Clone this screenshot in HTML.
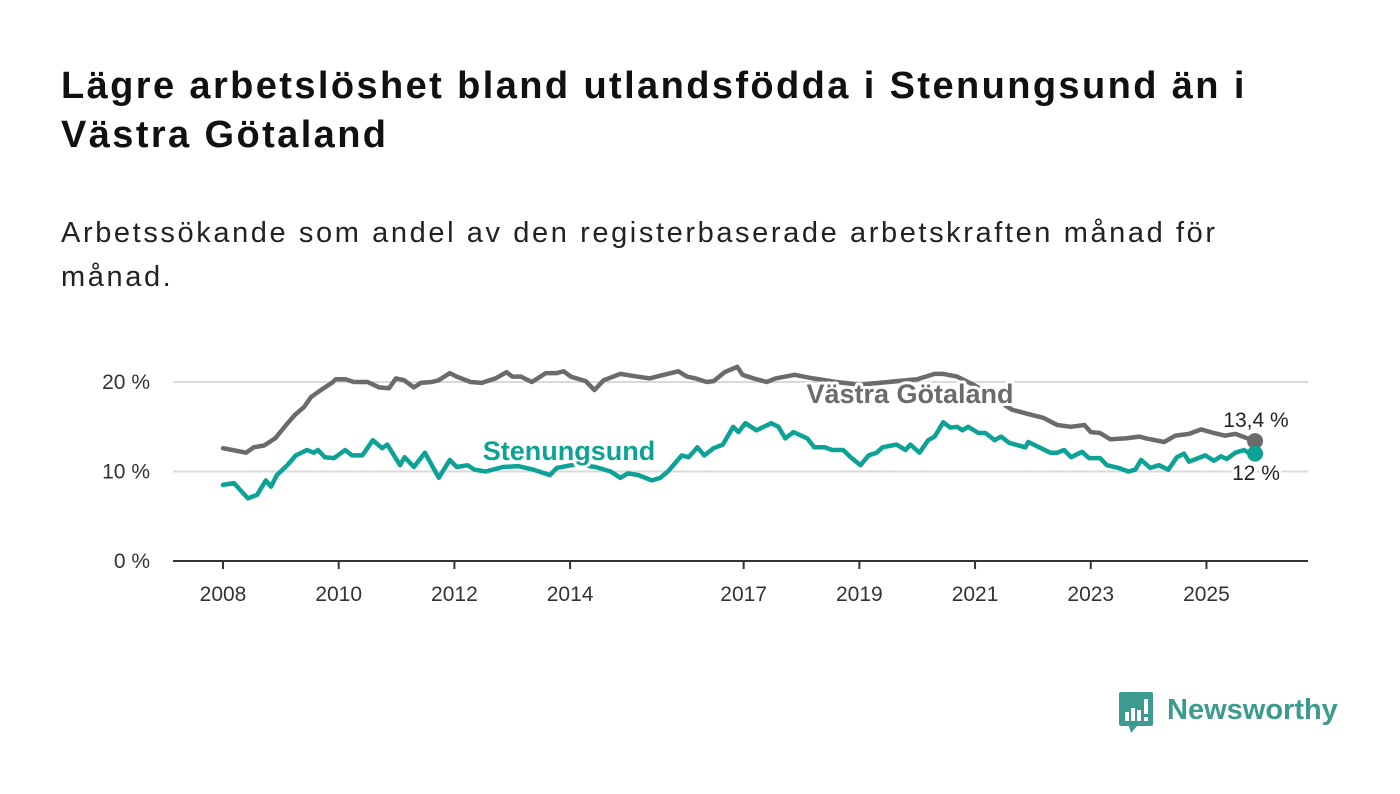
<!DOCTYPE html>
<html><head><meta charset="utf-8">
<style>
body{margin:0;background:#fff;width:1400px;height:794px;overflow:hidden;font-family:"Liberation Sans",sans-serif;}
#title{position:absolute;left:61px;top:62px;font-size:38px;font-weight:bold;line-height:49px;color:#111;width:1260px;letter-spacing:2.4px;}
#sub{position:absolute;left:61px;top:211px;font-size:29px;line-height:44px;color:#222;width:1240px;letter-spacing:2.6px;}
svg{position:absolute;left:0;top:0;}
</style></head><body>
<div id="title">Lägre arbetslöshet bland utlandsfödda i Stenungsund än i Västra Götaland</div>
<div id="sub">Arbetssökande som andel av den registerbaserade arbetskraften månad för månad.</div>
<svg id="chart" width="1400" height="794"></svg>
<script>
const yTicks=[0,10,20];
const yTickLabels=["0 %","10 %","20 %"];
const xTicks=[2008,2010,2012,2014,2017,2019,2021,2023,2025];
const vgYears=[2008.0,2008.16,2008.4,2008.53,2008.71,2008.9,2009.09,2009.24,2009.4,2009.52,2009.69,2009.88,2009.95,2010.12,2010.26,2010.5,2010.7,2010.87,2010.99,2011.13,2011.3,2011.42,2011.61,2011.73,2011.92,2012.04,2012.28,2012.47,2012.71,2012.9,2013.0,2013.15,2013.34,2013.58,2013.77,2013.89,2014.01,2014.27,2014.42,2014.58,2014.87,2015.06,2015.37,2015.62,2015.87,2016.02,2016.17,2016.36,2016.48,2016.67,2016.89,2016.98,2017.17,2017.4,2017.55,2017.88,2018.2,2018.6,2019.0,2019.5,2020.0,2020.3,2020.45,2020.69,2021.0,2021.3,2021.64,2021.87,2022.18,2022.42,2022.66,2022.89,2023.0,2023.16,2023.34,2023.6,2023.84,2023.96,2024.27,2024.46,2024.7,2024.91,2025.13,2025.32,2025.5,2025.84];
const vgValues=[12.6,12.4,12.1,12.7,12.9,13.7,15.2,16.3,17.2,18.3,19.1,19.9,20.3,20.3,20.0,20.0,19.4,19.3,20.4,20.2,19.4,19.9,20.0,20.2,21.0,20.6,20.0,19.9,20.4,21.1,20.6,20.6,20.0,21.0,21.0,21.2,20.6,20.1,19.1,20.2,20.9,20.7,20.4,20.8,21.2,20.6,20.4,20.0,20.1,21.1,21.7,20.8,20.4,20.0,20.4,20.8,20.4,20.0,19.7,20.0,20.3,20.9,20.9,20.6,19.6,18.3,16.9,16.5,16.0,15.2,15.0,15.2,14.4,14.3,13.6,13.7,13.9,13.7,13.3,14.0,14.2,14.7,14.3,14.0,14.2,13.4];
const stYears=[2008.0,2008.19,2008.43,2008.59,2008.74,2008.83,2008.93,2009.11,2009.26,2009.45,2009.57,2009.64,2009.76,2009.92,2010.11,2010.23,2010.41,2010.59,2010.75,2010.84,2011.06,2011.14,2011.3,2011.49,2011.73,2011.92,2012.04,2012.23,2012.35,2012.54,2012.84,2013.1,2013.37,2013.65,2013.77,2014.1,2014.44,2014.7,2014.87,2015.0,2015.18,2015.41,2015.56,2015.69,2015.93,2016.05,2016.2,2016.32,2016.48,2016.64,2016.82,2016.91,2017.03,2017.22,2017.48,2017.6,2017.72,2017.86,2018.1,2018.22,2018.4,2018.53,2018.72,2018.85,2019.02,2019.16,2019.3,2019.4,2019.64,2019.8,2019.88,2020.04,2020.19,2020.3,2020.45,2020.57,2020.69,2020.78,2020.88,2021.06,2021.18,2021.34,2021.45,2021.59,2021.87,2021.92,2022.3,2022.42,2022.54,2022.66,2022.85,2022.97,2023.16,2023.28,2023.48,2023.65,2023.77,2023.87,2024.03,2024.18,2024.34,2024.49,2024.61,2024.7,2024.82,2024.98,2025.13,2025.25,2025.35,2025.5,2025.65,2025.75,2025.84];
const stValues=[8.5,8.7,7.0,7.4,9.0,8.3,9.6,10.7,11.8,12.4,12.1,12.4,11.6,11.5,12.4,11.8,11.8,13.5,12.6,13.0,10.7,11.6,10.5,12.1,9.3,11.3,10.5,10.7,10.2,10.0,10.5,10.6,10.2,9.6,10.4,10.8,10.5,10.0,9.3,9.8,9.6,9.0,9.3,10.0,11.8,11.6,12.7,11.8,12.6,13.0,15.0,14.4,15.4,14.6,15.4,15.0,13.7,14.4,13.7,12.7,12.7,12.4,12.4,11.6,10.7,11.8,12.1,12.7,13.0,12.4,13.0,12.1,13.5,13.9,15.5,14.9,15.0,14.6,15.0,14.3,14.3,13.5,13.9,13.2,12.7,13.3,12.1,12.1,12.4,11.6,12.2,11.5,11.5,10.7,10.4,10.0,10.2,11.3,10.4,10.7,10.2,11.6,12.0,11.1,11.4,11.8,11.2,11.7,11.4,12.1,12.4,12.0,12.0];

const NS='http://www.w3.org/2000/svg';
const svg=document.getElementById('chart');
const X0=173,X1=1308;
const xs=y=>223+(y-2008)*57.85;
const ys=v=>561-v*8.95;
function mk(t,a,p){const e=document.createElementNS(NS,t);for(const k in a)e.setAttribute(k,a[k]);(p||svg).appendChild(e);return e;}
yTicks.forEach((t,i)=>{
  if(t>0){const g=mk('line',{x1:X0,x2:X1,y1:ys(t),y2:ys(t),stroke:'#d9d9d9','stroke-width':2});
  
  }
  const l=mk('text',{x:150,y:ys(t)+7,'text-anchor':'end','font-size':21,fill:'#333','font-family':'Liberation Sans, sans-serif'});
  l.textContent=yTickLabels[i];
  
  
});
const ax=mk('line',{x1:X0,x2:X1,y1:ys(0),y2:ys(0),stroke:'#333','stroke-width':2});


xTicks.forEach(t=>{
  const tk=mk('line',{x1:xs(t),x2:xs(t),y1:ys(0),y2:ys(0)+8,stroke:'#333','stroke-width':2});
  
  
  const l=mk('text',{x:xs(t),y:601,'text-anchor':'middle','font-size':21,fill:'#333','font-family':'Liberation Sans, sans-serif'});
  l.textContent=t;
  
  
});
function line(yrs,vals,col,name){
  const d=yrs.map((y,i)=>(i?'L':'M')+xs(y).toFixed(1)+','+ys(vals[i]).toFixed(1)).join('');
  const p=mk('path',{d:d,fill:'none',stroke:col,'stroke-width':4.5,'stroke-linejoin':'round','stroke-linecap':'round'});
  
  
  const n=yrs.length-1;
  const c=mk('circle',{cx:xs(yrs[n]),cy:ys(vals[n]),r:8,fill:col});
  
  
}
line(vgYears,vgValues,'#6b6b6e','vastra-gotaland');
line(stYears,stValues,'#0ca396','stenungsund');
function lab(txt,x,y,col,size,bold,anchor,name){
  const t=mk('text',{x:x,y:y,fill:col,'font-size':size,'font-weight':bold?'bold':'normal','text-anchor':anchor,stroke:'#fff','stroke-width':6,'paint-order':'stroke','stroke-linejoin':'round','font-family':'Liberation Sans, sans-serif'});
  t.textContent=txt;
  
  
}
lab('Västra Götaland',910,403,'#6b6b6e',27,true,'middle','vastra-gotaland-label');
lab('Stenungsund',569,460,'#0ca396',27,true,'middle','stenungsund-label');
lab('13,4 %',1256,427,'#222',21,false,'middle','vastra-gotaland-end-value');
lab('12 %',1256,480,'#222',21,false,'middle','stenungsund-end-value');
</script>
<div style="position:absolute;left:1119px;top:692px;height:44px;">
<svg width="36" height="44" style="position:absolute;left:0;top:0">
<path d="M2,0 H32 a2,2 0 0 1 2,2 V32 a2,2 0 0 1 -2,2 H18 L12,41 L10,34 H2 a2,2 0 0 1 -2,-2 V2 a2,2 0 0 1 2,-2Z" fill="#3d9a90"/>
<rect x="6" y="20" width="4" height="9" fill="#fff"/><rect x="12" y="16" width="4" height="13" fill="#fff"/><rect x="18" y="18" width="4" height="11" fill="#fff"/><rect x="25" y="7" width="4" height="15" fill="#fff"/><rect x="25" y="25" width="4" height="4" fill="#fff"/>
</svg>
<div style="position:absolute;left:48px;top:0;font-size:29px;font-weight:bold;color:#3d9a90;line-height:36px;white-space:nowrap;">Newsworthy</div>
</div>
</body></html>
